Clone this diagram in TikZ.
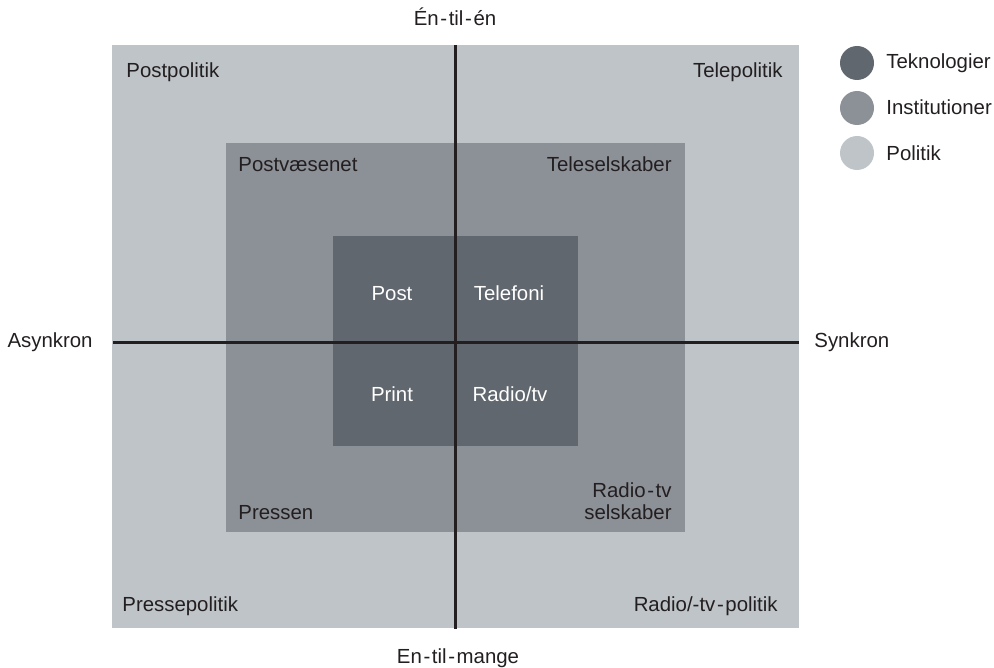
\documentclass[tikz,border=0pt]{standalone}
\usepackage{fontspec}
\setmainfont{Liberation Sans}
\definecolor{polc}{HTML}{BEC4C7}
\definecolor{instc}{HTML}{8C9097}
\definecolor{tekc}{HTML}{61676E}
\definecolor{ink}{HTML}{231F20}
\newcommand{\hy}{\kern0.08em-\kern0.08em}
\begin{document}
\begin{tikzpicture}[x=0.5pt,y=-0.5pt,
  lbl/.style={inner sep=0pt,font=\fontsize{10.2}{12}\selectfont,text=ink},
  wlbl/.style={lbl,text=white},
  axis/.style={draw=ink,line width=1.5pt},
  dot/.style={circle,minimum size=17pt,inner sep=0pt}]
\useasboundingbox (0,0) rectangle (994,668);
\fill[polc] (112,45) rectangle (799,628);
\fill[instc] (226,143) rectangle (685,532);
\fill[tekc] (333,236) rectangle (578,446);
\coordinate (ltop) at (455,45);
\coordinate (lbot) at (455,629);
\coordinate (lleft) at (113,342);
\coordinate (lright) at (799,342);
\draw[axis] (ltop) -- (lbot);
\draw[axis] (lleft) -- (lright);
% outer labels
\node[lbl,anchor=base west] (pp) at (126,78) {Postpolitik};
\node[lbl,anchor=base east] (tp) at (783,78) {Telepolitik};
\node[lbl,anchor=base west] (prp) at (122,611) {Pressepolitik};
\node[lbl,anchor=base east] (rtp) at (778,611) {Radio/-tv\hy politik};
% middle labels
\node[lbl,anchor=base west] (pv) at (238,172) {Postvæsenet};
\node[lbl,anchor=base east] (ts) at (672,172) {Teleselskaber};
\node[lbl,anchor=base west] (pr) at (238,519) {Pressen};
\node[lbl,anchor=base east] (rts1) at (672,497) {Radio\hy tv};
\node[lbl,anchor=base east] (rts2) at (672,519) {selskaber};
% inner labels
\node[wlbl,anchor=base] (post) at (392,300) {Post};
\node[wlbl,anchor=base] (tel) at (509,300) {Telefoni};
\node[wlbl,anchor=base] (print) at (392,401) {Print};
\node[wlbl,anchor=base] (rad) at (510,401) {Radio/tv};
% axis labels
\node[lbl,anchor=base] (een) at (455,26) {Én\hy til\hy én};
\node[lbl,anchor=base] (emg) at (458,663) {En\hy til\hy mange};
\node[lbl,anchor=base east] (asy) at (93,347) {Asynkron};
\node[lbl,anchor=base west] (syn) at (814,347) {Synkron};
% legend
\node[dot,fill=tekc] (d1) at (857,63) {};
\node[dot,fill=instc] (d2) at (857,108) {};
\node[dot,fill=polc] (d3) at (857,153) {};
\node[lbl,anchor=base west] (t1) at (886,69) {Teknologier};
\node[lbl,anchor=base west] (t2) at (886,115) {Institutioner};
\node[lbl,anchor=base west] (t3) at (886,161) {Politik};
\end{tikzpicture}
\end{document}
